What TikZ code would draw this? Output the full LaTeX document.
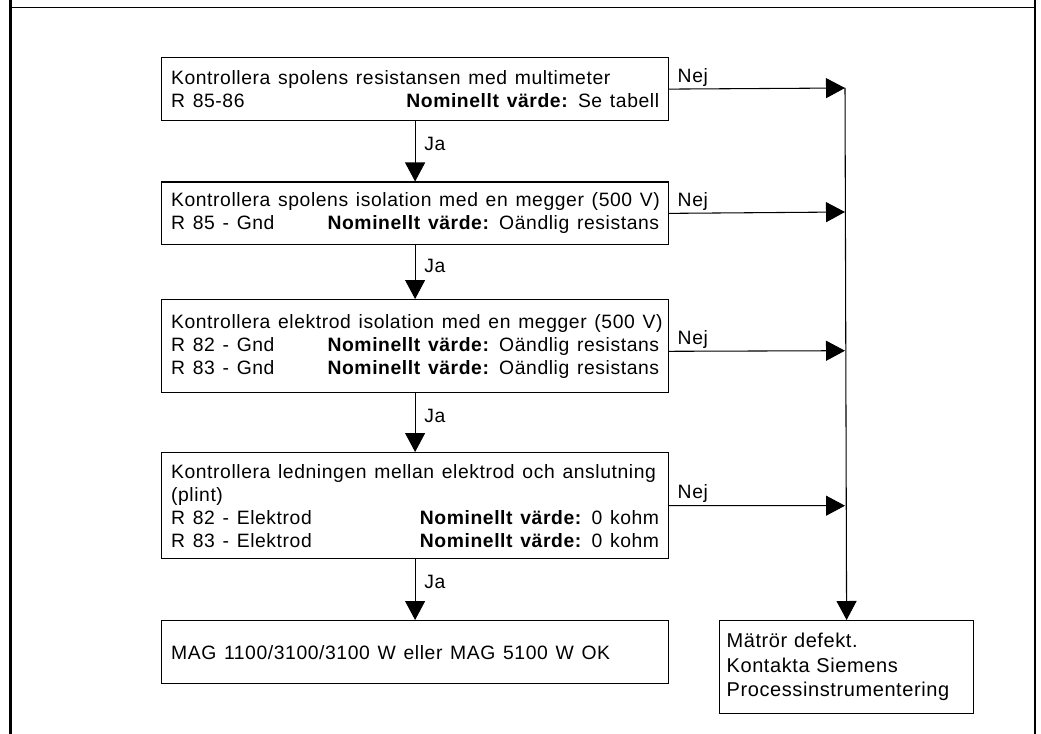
\documentclass[tikz,border=0pt]{standalone}
\usepackage{fontspec}
\setmainfont{Liberation Sans}[LetterSpace=3,WordSpace=1.3]
\usetikzlibrary{arrows.meta}
% one line of a check box, the second part pushed to the right edge
\newcommand\rad[2]{\makebox[366pt][l]{#1\hfill#2}}
\newcommand\nomval{\textbf{Nominellt värde:} }
\tikzset{
  check/.style={draw,line width=0.9pt,anchor=north west,inner xsep=6pt,inner ysep=2pt,
    minimum width=380.25pt,align=left},
  flow/.style={line width=0.8pt,-{Triangle[length=14.25pt,width=15pt]}},
  nej/.style={anchor=base west,inner sep=0pt,xshift=6pt,yshift=5pt},
  ja/.style={anchor=west,inner sep=0pt,xshift=6.5pt}
}
\begin{document}
\begin{tikzpicture}[x=0.75pt,y=-0.75pt,every node/.style={font=\fontsize{14.5pt}{17.25pt}\selectfont}]
\useasboundingbox (0,0) rectangle (1041,734);
% page frame
\draw[line width=1.6pt] (10.5,0) -- (10.5,734);
\draw[line width=1.6pt] (1035,0) -- (1035,734);
\draw[line width=0.8pt] (10.5,7.3) -- (1035,7.3);
% checks
\node[check,minimum height=47.25pt] (spole) at (161,57)
  {\rad{Kontrollera spolens resistansen med multimeter}{}\\
   \rad{R 85-86}{\nomval Se tabell}};
\node[check,minimum height=46.9pt] (spoliso) at (161,181.5)
  {\rad{Kontrollera spolens isolation med en megger (500 V)}{}\\
   \rad{R 85 - Gnd}{\nomval Oändlig resistans}};
\node[check,minimum height=69.75pt] (elektiso) at (161,299)
  {\rad{Kontrollera elektrod isolation med en megger (500 V)}{}\\
   \rad{R 82 - Gnd}{\nomval Oändlig resistans}\\
   \rad{R 83 - Gnd}{\nomval Oändlig resistans}};
\node[check,minimum height=79.5pt] (ledning) at (161,452)
  {\rad{Kontrollera ledningen mellan elektrod och anslutning}{}\\
   \rad{(plint)}{}\\
   \rad{R 82 - Elektrod}{\nomval 0 kohm}\\
   \rad{R 83 - Elektrod}{\nomval 0 kohm}};
\node[check,minimum height=47.25pt] (ok) at (161,620)
  {\rad{MAG 1100/3100/3100 W eller MAG 5100 W OK}{}};
\node[check,minimum height=69.4pt,minimum width=190.5pt,text width=180pt,inner xsep=5.25pt,
  font=\fontsize{15pt}{18.4pt}\selectfont] (defekt) at (719,620)
  {Mätrör defekt.\\ Kontakta Siemens\\ Processinstrumentering};
% collecting line on the right
\coordinate (n1) at (845,88);
\coordinate (n2) at (845,212);
\coordinate (n3) at (845,350.7);
\coordinate (n4) at (845,505.7);
\draw[flow] (n1) -- (defekt.north);
\draw[flow] (spole.east) -- (n1) node[nej,pos=0] {Nej};
\draw[flow] (spoliso.east) -- (n2) node[nej,pos=0] {Nej};
\draw[flow] ([yshift=-3.9pt]elektiso.east) -- (n3) node[nej,pos=0] {Nej};
\draw[flow] (ledning.east) -- (n4) node[nej,pos=0] {Nej};
% main chain
\draw[flow] (spole.south) -- (spoliso.north) node[ja,pos=0.38] {Ja};
\draw[flow] (spoliso.south) -- (elektiso.north) node[ja,pos=0.38] {Ja};
\draw[flow] (elektiso.south) -- (ledning.north) node[ja,pos=0.38] {Ja};
\draw[flow] (ledning.south) -- (ok.north) node[ja,pos=0.38] {Ja};
\end{tikzpicture}
\end{document}
